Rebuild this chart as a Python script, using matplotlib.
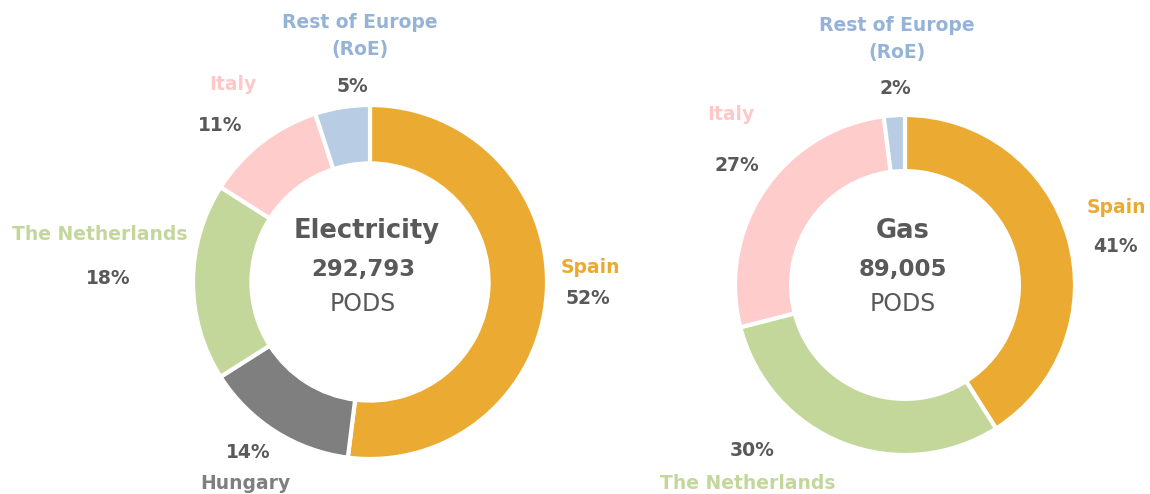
import matplotlib
matplotlib.use('Agg')
import matplotlib.pyplot as plt

# electricity split
elec_labels = ['Spain', 'Hungary', 'The Netherlands', 'Italy', 'Rest of Europe\n(RoE)']
elec_share = [52, 14, 18, 11, 5]
elec_total = '292,793'

# gas split
gas_labels = ['Spain', 'The Netherlands', 'Italy', 'Rest of Europe\n(RoE)']
gas_share = [41, 30, 27, 2]
gas_total = '89,005'

col = {'Spain': '#EBAB32', 'Hungary': '#7F7F7F', 'The Netherlands': '#C4D79B',
       'Italy': '#FFCCCC', 'Rest of Europe\n(RoE)': '#B8CCE4'}
txtcol = {'Spain': '#EBA932', 'Hungary': '#7F7F7F', 'The Netherlands': '#C4D79B',
          'Italy': '#FFC8C8', 'Rest of Europe\n(RoE)': '#95B3D7'}
dark = '#595959'

plt.rcParams['font.family'] = ['DejaVu Sans']

W, H = 1150, 494
fig = plt.figure(figsize=(W / 100, H / 100), dpi=100)
ax = fig.add_axes([0, 0, 1, 1])
ax.set_xlim(0, W)
ax.set_ylim(H, 0)
ax.set_aspect('equal')
ax.axis('off')


def donut(labels, share, cx, cy, r):
    # y axis is inverted: startangle -90 is the top, counterclock runs clockwise on screen
    ax.pie(share, colors=[col[l] for l in labels], startangle=-90,
           counterclock=True, center=(cx, cy), radius=r,
           wedgeprops=dict(width=r * 0.33, edgecolor='white', linewidth=3))
    ax.set_xlim(0, W)
    ax.set_ylim(H, 0)


donut(elec_labels, elec_share, 370, 282, 177)
donut(gas_labels, gas_share, 905, 285, 170)

fs = 13.5
# electricity labels
pos_e = {'Spain': ((590, 267), (588, 298)),
         'Hungary': ((245, 483), (248, 452)),
         'The Netherlands': ((100, 234), (108, 278)),
         'Italy': ((233, 84), (220, 125)),
         'Rest of Europe\n(RoE)': ((360, 36), (352, 87))}
for l, s in zip(elec_labels, elec_share):
    (nx, ny), (px, py) = pos_e[l]
    ax.text(nx, ny, l, color=txtcol[l], fontsize=fs, fontweight='bold',
            ha='center', va='center', linespacing=1.5)
    ax.text(px, py, f'{s}%', color=dark, fontsize=fs, fontweight='bold',
            ha='center', va='center')

pos_g = {'Spain': ((1116, 207), (1115, 246)),
         'The Netherlands': ((748, 483), (752, 450)),
         'Italy': ((731, 114), (737, 165)),
         'Rest of Europe\n(RoE)': ((897, 39), (895, 88))}
for l, s in zip(gas_labels, gas_share):
    (nx, ny), (px, py) = pos_g[l]
    ax.text(nx, ny, l, color=txtcol[l], fontsize=fs, fontweight='bold',
            ha='center', va='center', linespacing=1.5)
    ax.text(px, py, f'{s}%', color=dark, fontsize=fs, fontweight='bold',
            ha='center', va='center')

# centre text
for cx, title, total in [(367, 'Electricity', elec_total), (903, 'Gas', gas_total)]:
    sx = cx - 4 if title == 'Electricity' else cx
    ax.text(cx, 231, title, color=dark, fontsize=18.5, fontweight='bold', ha='center', va='center')
    ax.text(sx, 269, total, color=dark, fontsize=16.5, fontweight='bold', ha='center', va='center')
    ax.text(sx, 304, 'PODS', color=dark, fontsize=17, ha='center', va='center')

fig.savefig('out.png', dpi=100, facecolor='white')
